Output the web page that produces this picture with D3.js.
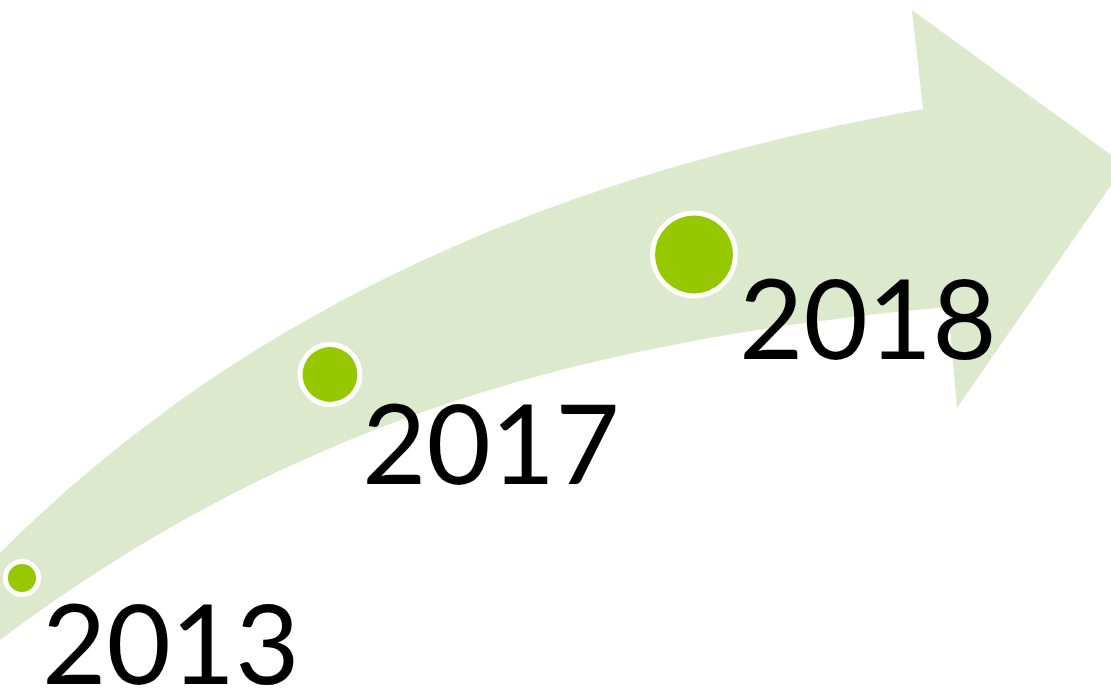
<!DOCTYPE html>
<html><head><meta charset="utf-8">
<script src="https://cdn.jsdelivr.net/npm/d3@7"></script>
<style>html,body{margin:0;padding:0;background:#fff;overflow:hidden}</style>
</head><body>
<svg id="c" width="1111" height="690"></svg>
<script>
const years = ["2013", "2017", "2018"];
const sizes = [1.1, 4.2, 8.5];

const svg = d3.select("#c");

// arrow band
const p = d3.path();
p.moveTo(0, 553);
p.bezierCurveTo(280, 273, 623, 163, 923, 109);
p.lineTo(912, 10);
p.lineTo(1125, 165);
p.lineTo(957, 408);
p.lineTo(948, 307);
p.bezierCurveTo(598, 338.5, 300, 415, 0, 640);
p.closePath();
svg.append("path").attr("d", p.toString()).attr("fill", "#dde9cd");

const x = d3.scaleOrdinal().domain(years).range([22, 330, 694]);
const y = d3.scaleOrdinal().domain(years).range([578, 374.5, 254.5]);
const r = d3.scaleSqrt().domain([0, d3.max(sizes)]).range([0, 39]);

svg.selectAll("circle.dot").data(years).join("circle")
  .attr("class", "dot")
  .attr("cx", d => x(d)).attr("cy", d => y(d))
  .attr("r", (d, i) => r(sizes[i]))
  .attr("fill", "#96c800").attr("stroke", "#fff").attr("stroke-width", 10)
  .attr("paint-order", "stroke");

const tx = d3.scaleOrdinal().domain(years).range([42, 362, 739]);
const ty = d3.scaleOrdinal().domain(years).range([684, 484, 359]);
svg.selectAll("text.yr").data(years).join("text")
  .attr("class", "yr")
  .attr("x", d => tx(d)).attr("y", d => ty(d))
  .attr("font-family", "Lato, 'Open Sans', sans-serif")
  .attr("font-size", 111)
  .attr("fill", "#000")
  .text(d => d);
</script>
</body></html>
